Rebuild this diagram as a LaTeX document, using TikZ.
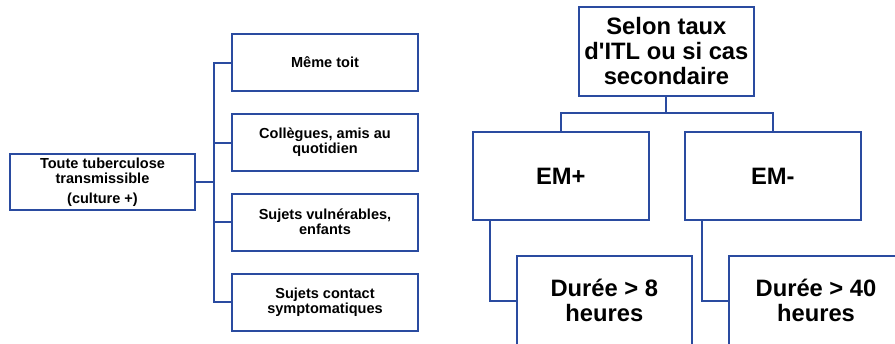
\documentclass[tikz,border=0pt]{standalone}
\usepackage{fontspec}
\setmainfont{Liberation Sans}
\usetikzlibrary{calc}
\definecolor{boxblue}{RGB}{42,75,160}

\begin{document}
\begin{tikzpicture}[x=0.75pt,y=-0.75pt,
        box/.style={draw=boxblue,line width=1.5pt,align=center,inner sep=0pt,
            font=\bfseries\fontsize{10.9pt}{11.25pt}\selectfont},
        bigbox/.style={box,font=\bfseries\fontsize{17.8pt}{18.75pt}\selectfont},
        link/.style={draw=boxblue,line width=1.5pt}]
        \useasboundingbox (0,0) rectangle (895,343);
        % left tree
        \node[box,minimum width=139pt,minimum height=42pt] (src) at (102.5,182)
            {Toute tuberculose\\transmissible\\[4pt](culture +)};
        \node[box,minimum width=139.5pt,minimum height=42.75pt] (toit) at (325,62.5) {Même toit};
        \node[box,minimum width=139.5pt,minimum height=42.75pt] (amis) at (325,142.5) {Collègues, amis au\\quotidien};
        \node[box,minimum width=139.5pt,minimum height=42.75pt] (vuln) at (325,222) {Sujets vulnérables,\\enfants};
        \node[box,minimum width=139.5pt,minimum height=42.75pt] (sympt) at (325,302) {Sujets contact\\symptomatiques};
        \coordinate (trunk) at (214,182);
        \draw[link] (src.east) -- (trunk);
        \draw[link] (toit.west) -| (trunk) |- (sympt.west);
        \draw[link] (amis.west) -- (amis.west -| trunk);
        \draw[link] (vuln.west) -- (vuln.west -| trunk);
        % right tree
        \node[bigbox,minimum width=131.25pt,minimum height=66.75pt] (taux) at (666.4,51.5)
            {Selon taux\\d\textquotesingle ITL ou si cas\\secondaire};
        \node[bigbox,minimum width=132pt,minimum height=66pt] (emp) at (560.8,176) {EM+};
        \node[bigbox,minimum width=132pt,minimum height=66pt] (emm) at (772.8,176) {EM-};
        \node[bigbox,minimum width=131.25pt,minimum height=67.5pt] (dur8) at (604.3,300.5) {Durée > 8\\heures};
        \node[bigbox,minimum width=131.25pt,minimum height=67.5pt] (dur40) at (816,300.5) {Durée > 40\\heures};
        \coordinate (split) at (666.4,113);
        \draw[link] (taux.south) -- (split);
        \draw[link] (emp.north) |- (split) -| (emm.north);
        \draw[link] ([xshift=13.5pt]emp.south west) |- (dur8.west);
        \draw[link] ([xshift=13.5pt]emm.south west) |- (dur40.west);
    \end{tikzpicture}
\end{document}
